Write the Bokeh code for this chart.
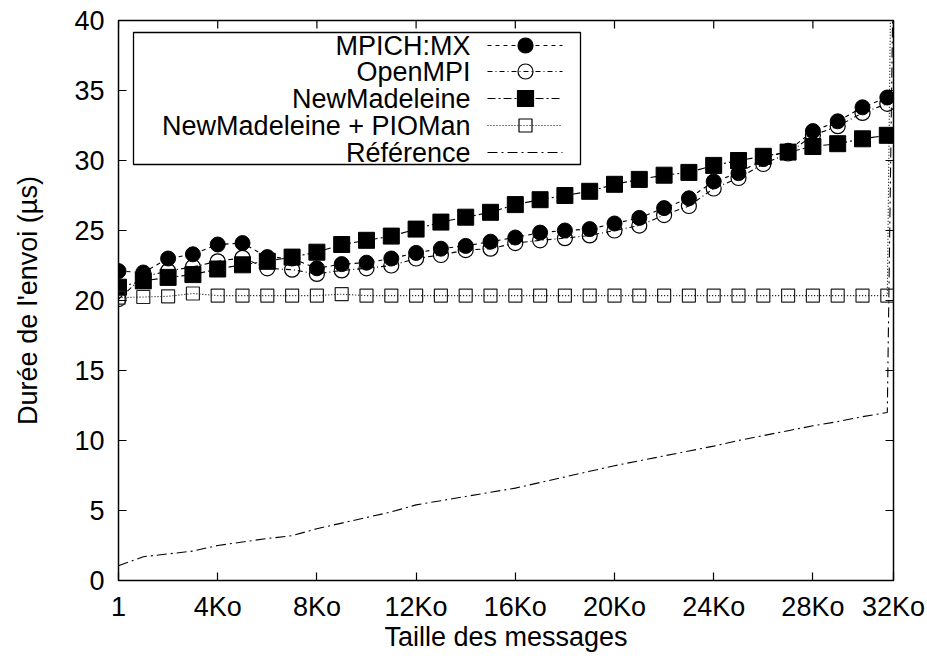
from bokeh.plotting import figure
from bokeh.models import FixedTicker, Range1d
from bokeh.embed import file_html
from bokeh.resources import INLINE
from bokeh.core.properties import value

# ---------------- data ----------------
sizes_ko = [0.001, 1, 2, 3, 4, 5, 6, 7, 8, 9, 10, 11, 12, 13, 14, 15,
            16, 17, 18, 19, 20, 21, 22, 23, 24, 25, 26, 27, 28, 29, 30, 31]
end_ko = 31.25  # 32000 bytes, last measured point (off the top)

mpich = [22.1, 22.0, 23.0, 23.3, 24.0, 24.1, 23.1, 23.0, 22.3, 22.6, 22.7, 23.0,
         23.4, 23.7, 23.9, 24.2, 24.5, 24.85, 25.0, 25.1, 25.5, 25.9, 26.6, 27.3,
         28.5, 29.1, 30.1, 30.7, 32.1, 32.8, 33.8, 34.5]
openmpi = [20.1, 21.7, 22.1, 22.4, 22.8, 23.05, 22.3, 22.2, 21.9, 22.15, 22.3, 22.5,
           23.0, 23.25, 23.6, 23.7, 24.1, 24.3, 24.45, 24.65, 25.0, 25.35, 26.1, 26.75,
           28.0, 28.75, 29.75, 30.5, 31.8, 32.45, 33.4, 34.05]
newmad = [20.95, 21.4, 21.65, 21.85, 22.25, 22.55, 22.8, 23.1, 23.45, 24.0, 24.3, 24.6,
          25.1, 25.6, 25.95, 26.3, 26.85, 27.2, 27.5, 27.8, 28.3, 28.65, 28.95, 29.15,
          29.65, 30.0, 30.3, 30.6, 31.0, 31.2, 31.55, 31.8]
pioman = [20.2, 20.25, 20.3, 20.5, 20.35, 20.35, 20.35, 20.35, 20.35, 20.45, 20.35, 20.35,
          20.35, 20.35, 20.35, 20.35, 20.35, 20.35, 20.35, 20.35, 20.35, 20.35, 20.35, 20.35,
          20.35, 20.35, 20.35, 20.35, 20.35, 20.35, 20.35, 20.35]
pioman_end = 60.0
reference = [1.05, 1.7, 1.9, 2.1, 2.5, 2.75, 3.0, 3.2, 3.7, 4.1, 4.5, 4.9,
             5.4, 5.7, 6.0, 6.3, 6.6, 7.0, 7.4, 7.8, 8.2, 8.55, 8.9, 9.25,
             9.6, 10.0, 10.35, 10.7, 11.05, 11.35, 11.7, 12.0]
reference_end = 45.0

x_ticks = [0, 4, 8, 12, 16, 20, 24, 28, 31.25]
x_tick_labels = ["1", "4Ko", "8Ko", "12Ko", "16Ko", "20Ko", "24Ko", "28Ko", "32Ko"]
y_ticks = [0, 5, 10, 15, 20, 25, 30, 35, 40]

series_names = ["MPICH:MX", "OpenMPI", "NewMadeleine", "NewMadeleine + PIOMan", "Référence"]

# ---------------- layout ----------------
W, H = 927, 659
BL, BR, BT, BB = 118, 34, 20, 79
X0, X1 = 0.0, 31.25
Y0, Y1 = 0.0, 40.0
FONT = "Liberation Sans"
FS = "27px"
TICK = 8

p = figure(width=W, height=H, output_backend="svg", toolbar_location=None,
           x_range=Range1d(X0, X1), y_range=Range1d(Y0, Y1),
           min_border_left=BL, min_border_right=BR, min_border_top=BT,
           min_border_bottom=BB, background_fill_color="white",
           border_fill_color="white")
p.grid.visible = False
p.outline_line_color = "black"
p.outline_line_width = 1.5

fw = W - BL - BR
fh = H - BT - BB


def dx(px):
    return X0 + (px - BL) / fw * (X1 - X0)


def dy(py):
    return Y1 - (py - BT) / fh * (Y1 - Y0)


# axes
xa = p.xaxis[0]
xa.ticker = FixedTicker(ticks=x_ticks)
xa.major_label_overrides = {t: l for t, l in zip(x_ticks, x_tick_labels)}
ya = p.yaxis[0]
ya.ticker = FixedTicker(ticks=y_ticks)
for ax in (xa, ya):
    ax.major_tick_in = TICK
    ax.major_tick_out = 0
    ax.minor_tick_line_color = None
    ax.major_tick_line_color = "black"
    ax.major_tick_line_width = 1.2
    ax.axis_line_color = None
    ax.major_label_text_font = FONT
    ax.major_label_text_font_size = FS
    ax.major_label_text_color = "black"
    ax.axis_label_text_font = FONT
    ax.axis_label_text_font_size = FS
    ax.axis_label_text_font_style = "normal"
    ax.axis_label_text_color = "black"
xa.axis_label = "Taille des messages"
ya.axis_label = "Durée de l'envoi (µs)"
xa.major_label_standoff = 11
xa.axis_label_standoff = -3
ya.major_label_standoff = 14
ya.axis_label_standoff = 28

# mirrored ticks on the top and right edges (gnuplot style)
tx = TICK / fh * (Y1 - Y0)
ty = TICK / fw * (X1 - X0)
p.segment(x0=x_ticks, y0=[Y1] * len(x_ticks), x1=x_ticks, y1=[Y1 - tx] * len(x_ticks),
          line_color="black", line_width=1.2)
p.segment(x0=[X1] * len(y_ticks), y0=y_ticks, x1=[X1 - ty] * len(y_ticks), y1=y_ticks,
          line_color="black", line_width=1.2)

# ---------------- series ----------------
LW = 1.1
p.line(sizes_ko, mpich, line_color="black", line_width=LW, line_dash="4 4")
p.line(sizes_ko, openmpi, line_color="black", line_width=LW, line_dash="5 3 1 3")
p.line(sizes_ko, newmad, line_color="black", line_width=LW, line_dash="8 3 2 3")
p.line(sizes_ko + [end_ko], pioman + [pioman_end], line_color="black", line_width=LW,
       line_dash="1 2")
p.line(sizes_ko + [end_ko], reference + [reference_end], line_color="black",
       line_width=LW, line_dash="10 4 2 4")

p.scatter(sizes_ko, mpich, marker="circle", size=15, fill_color="black",
          line_color="black")
p.scatter(sizes_ko, openmpi, marker="circle", size=15, fill_alpha=0,
          line_color="black", line_width=1.2)
p.scatter(sizes_ko, newmad, marker="square", size=16, fill_color="black",
          line_color="black")
p.scatter(sizes_ko, pioman, marker="square", size=13, fill_alpha=0,
          line_color="#222222", line_width=1.2)

# ---------------- legend (drawn like gnuplot's key) ----------------
box_l, box_r, box_t, box_b = 133, 580, 32, 164
row_y = [45, 71, 98, 125, 152]
text_right = 470
samp_l, samp_r, samp_m = 487, 562, 525
dashes = ["4 4", "5 3 1 3", "8 3 2 3", "1 2", "10 4 2 4"]
markers = [("circle", 15, 1.0), ("circle", 15, 0.0), ("square", 16, 1.0),
           ("square", 13, 0.0), None]

p.quad(left=[dx(box_l)], right=[dx(box_r)], top=[dy(box_t)], bottom=[dy(box_b)],
       fill_color="white", line_color="black", line_width=1.3)
for name, ry, dsh, mk in zip(series_names, row_y, dashes, markers):
    yy = dy(ry)
    p.line([dx(samp_l), dx(samp_r)], [yy, yy], line_color="black", line_width=LW,
           line_dash=dsh)
    if mk is not None:
        p.scatter([dx(samp_m)], [yy], marker=mk[0], size=mk[1], fill_color="black",
                  fill_alpha=mk[2], line_color="black", line_width=1.2)
    p.text(x=[dx(text_right)], y=[yy], text=[name], text_align="right",
           text_baseline="middle", text_font=value(FONT), text_font_size=FS,
           text_color="black")

open("out.html", "w").write(file_html(p, INLINE))
